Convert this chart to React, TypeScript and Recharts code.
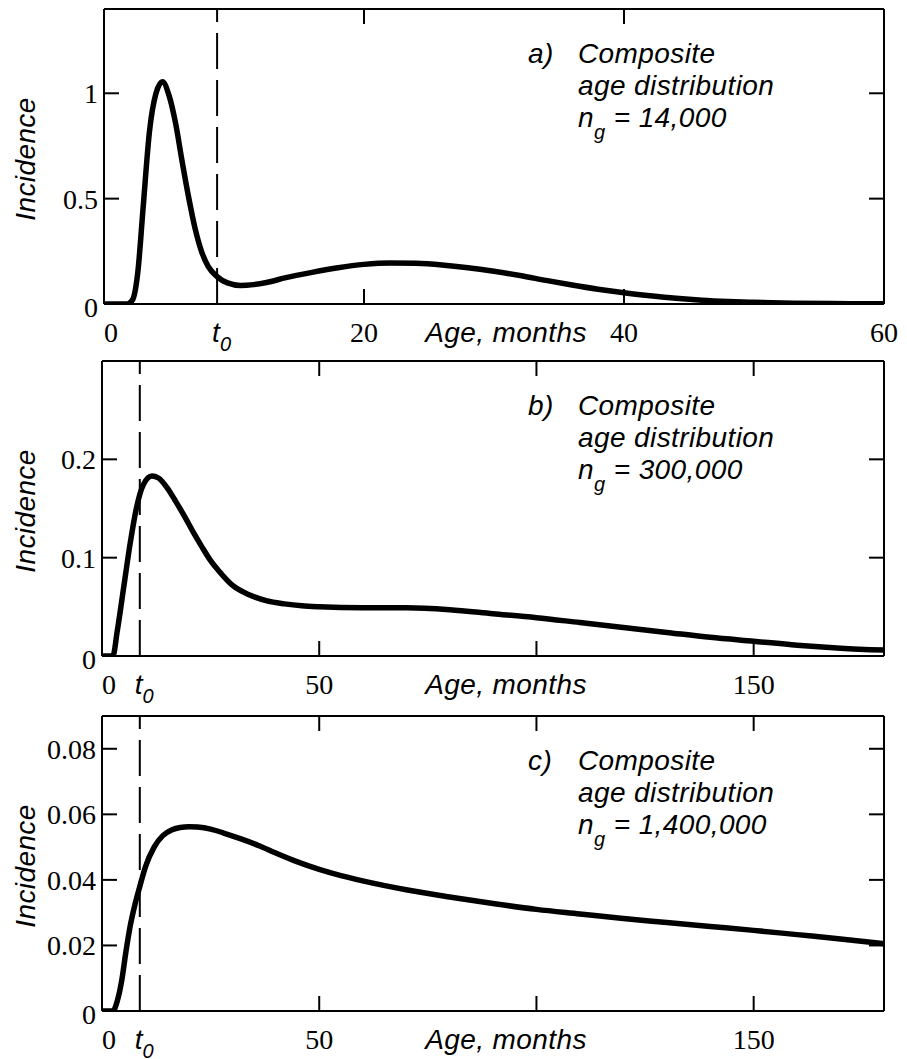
import React from "react";
import { LineChart, Line, XAxis, YAxis, ReferenceLine } from "recharts";

// age at which the dashed t0 marker sits (months)
const T0 = 8.7;

// panel a) n_g = 14,000
const ageA = [0, 1, 1.8, 2.2, 2.6, 3, 3.5, 4, 4.5, 5, 5.5, 6, 6.5, 7, 7.5, 8, 8.7, 9.5, 10.5, 11.5, 12.5, 14, 16, 18, 20, 22, 24, 26, 28, 30, 32, 34, 36, 38, 40, 42, 44, 46, 48, 50, 53, 56, 60];
const incidenceA = [0, 0, 0, 0.02, 0.15, 0.45, 0.82, 1.0, 1.055, 0.99, 0.86, 0.68, 0.51, 0.36, 0.25, 0.18, 0.13, 0.1, 0.088, 0.092, 0.102, 0.125, 0.15, 0.172, 0.188, 0.195, 0.193, 0.185, 0.172, 0.155, 0.135, 0.112, 0.09, 0.07, 0.053, 0.039, 0.027, 0.018, 0.012, 0.008, 0.004, 0.002, 0.001];

// panel b) n_g = 300,000
const ageB = [0, 2.5, 3.5, 5, 6.5, 8, 9.5, 11.5, 13, 15, 17, 19, 21, 23, 25, 27, 30, 34, 38, 42, 46, 50, 60, 70, 80, 90, 100, 110, 120, 130, 140, 150, 160, 170, 180];
const incidenceB = [0, 0, 0.025, 0.07, 0.115, 0.152, 0.174, 0.183, 0.181, 0.171, 0.157, 0.142, 0.126, 0.111, 0.097, 0.086, 0.072, 0.062, 0.056, 0.053, 0.051, 0.05, 0.049, 0.049, 0.047, 0.043, 0.039, 0.034, 0.029, 0.024, 0.019, 0.015, 0.011, 0.008, 0.006];

// panel c) n_g = 1,400,000
const ageC = [0, 2.5, 3.5, 4.5, 5.5, 6.5, 7.5, 8.7, 10, 12, 14, 16, 18, 20, 22, 25, 28, 32, 36, 40, 45, 50, 55, 60, 70, 80, 90, 100, 110, 120, 130, 140, 150, 160, 170, 180];
const incidenceC = [0, 0, 0.003, 0.009, 0.018, 0.026, 0.032, 0.038, 0.044, 0.05, 0.0535, 0.0552, 0.056, 0.0562, 0.0561, 0.0555, 0.0543, 0.0525, 0.0505, 0.0482, 0.0455, 0.0432, 0.0413, 0.0397, 0.037, 0.0348, 0.0328, 0.031, 0.0296, 0.0282, 0.027, 0.0258, 0.0246, 0.0233, 0.022, 0.0205];

// tick marks and labels
const xMarksA = [20, 40];
const xLabelsA = ["0", "20", "40", "60"];
const xMarksBC = [50, 100, 150];
const xLabelsBC = ["0", "50", "150"];
const yTicksA = [0, 0.5, 1];
const yTicksB = [0, 0.1, 0.2];
const yTicksC = [0, 0.02, 0.04, 0.06, 0.08];

const W = 907;
const H = 1059;
const FRAME_H = 295;
const MT = 9;
const MB = 62;
const RIGHT = 884;
const SERIF = '"Liberation Serif", "Times New Roman", serif';
const SANS = '"Liberation Sans", Arial, sans-serif';
const TICK = 15;

function bottomTick(marks: number[], labels: string[]) {
  return (p: any) => {
    const { x, y, payload } = p;
    const v = payload.value;
    const lab = labels.find((l) => Number(l) === v);
    return (
      <g>
        {marks.includes(v) && <line x1={x} y1={y} x2={x} y2={y - TICK} stroke="#000" strokeWidth={2} />}
        {v === T0 ? (
          <text x={x - 5} y={y + 38} fontFamily={SANS} fontStyle="italic" fontSize={28}>
            t<tspan fontSize={20} dy={9}>0</tspan>
          </text>
        ) : lab !== undefined ? (
          <text x={x + (v === 0 ? 7 : 0)} y={y + 38} textAnchor="middle" fontFamily={SERIF} fontSize={28}>
            {lab}
          </text>
        ) : null}
      </g>
    );
  };
}

function topTick(marks: number[]) {
  return (p: any) => {
    const { x, y, payload } = p;
    if (!marks.includes(payload.value)) return <g />;
    return <line x1={x} y1={y} x2={x} y2={y + TICK} stroke="#000" strokeWidth={2} />;
  };
}

function leftTick(p: any) {
  const { x, y, payload } = p;
  const v = payload.value;
  return (
    <g>
      {v > 0 && <line x1={x} y1={y} x2={x + TICK} y2={y} stroke="#000" strokeWidth={2} />}
      <text x={x - 6} y={y + (v === 0 ? 13 : 10)} textAnchor="end" fontFamily={SERIF} fontSize={28}>
        {String(v)}
      </text>
    </g>
  );
}

function rightTick(p: any) {
  const { x, y, payload } = p;
  if (payload.value <= 0) return <g />;
  return <line x1={x - TICK} y1={y} x2={x} y2={y} stroke="#000" strokeWidth={2} />;
}

interface PanelProps {
  top: number;
  left: number;
  ages: number[];
  values: number[];
  xMax: number;
  yMax: number;
  marks: number[];
  labels: string[];
  yTicks: number[];
}

function Panel({ top, left, ages, values, xMax, yMax, marks, labels, yTicks }: PanelProps) {
  const data = ages.map((a, i) => ({ age: a, v: values[i] }));
  const bottomTicks = [0, T0, ...marks, xMax];
  const axis = { stroke: "#000", strokeWidth: 2 };
  // axes are 1px thick bands (a 0 size axis is not drawn), margins take that into account
  return (
    <div style={{ position: "absolute", left: 0, top: top - MT }}>
      <LineChart
        width={W}
        height={MT + FRAME_H + MB}
        data={data}
        margin={{ top: MT - 1, bottom: MB - 1, left: left - 1, right: W - RIGHT - 1 }}
      >
        <XAxis
          dataKey="age"
          type="number"
          domain={[0, xMax]}
          allowDataOverflow
          ticks={bottomTicks}
          interval={0}
          height={1}
          tickSize={0}
          tickMargin={0}
          tickLine={false}
          axisLine={axis}
          tick={bottomTick(marks, labels)}
        />
        <XAxis
          xAxisId="top"
          orientation="top"
          dataKey="age"
          type="number"
          domain={[0, xMax]}
          allowDataOverflow
          ticks={marks}
          interval={0}
          height={1}
          tickSize={0}
          tickMargin={0}
          tickLine={false}
          axisLine={axis}
          tick={topTick(marks)}
        />
        <YAxis
          type="number"
          domain={[0, yMax]}
          allowDataOverflow
          ticks={yTicks}
          interval={0}
          width={1}
          tickSize={0}
          tickMargin={0}
          tickLine={false}
          axisLine={axis}
          tick={leftTick}
        />
        <YAxis
          yAxisId="r"
          orientation="right"
          type="number"
          domain={[0, yMax]}
          allowDataOverflow
          ticks={yTicks}
          interval={0}
          width={1}
          tickSize={0}
          tickMargin={0}
          tickLine={false}
          axisLine={axis}
          tick={rightTick}
        />
        <ReferenceLine x={T0} stroke="#000" strokeWidth={2} strokeDasharray="36 11" />
        <Line
          dataKey="v"
          type="monotone"
          stroke="#000"
          strokeWidth={5.5}
          dot={false}
          activeDot={false}
          isAnimationActive={false}
        />
      </LineChart>
    </div>
  );
}

const PANELS = [
  { top: 9, tag: "a)", n: "14,000" },
  { top: 361, tag: "b)", n: "300,000" },
  { top: 716, tag: "c)", n: "1,400,000" },
];

function Overlay() {
  const sans = { fontFamily: SANS, fontStyle: "italic" as const, fontSize: 28, letterSpacing: 0.4 };
  return (
    <svg width={W} height={H} style={{ position: "absolute", left: 0, top: 0, pointerEvents: "none" }}>
      {PANELS.map((p) => (
        <g key={p.tag}>
          <text
            x={35}
            y={p.top + 150}
            transform={`rotate(-90, 35, ${p.top + 150})`}
            textAnchor="middle"
            {...sans}
          >
            Incidence
          </text>
          <text x={506} y={p.top + FRAME_H + 38} textAnchor="middle" {...sans}>
            Age, months
          </text>
          <text x={528} y={p.top + 54} {...sans}>{p.tag}</text>
          <text x={578} y={p.top + 54} {...sans}>Composite</text>
          <text x={578} y={p.top + 86} {...sans}>age distribution</text>
          <text x={578} y={p.top + 118} {...sans}>
            n<tspan fontSize={20} dy={12}>g</tspan>
            <tspan dy={-12}> = {p.n}</tspan>
          </text>
        </g>
      ))}
    </svg>
  );
}

export default function App() {
  return (
    <div
      style={{
        position: "absolute",
        left: 0,
        top: 0,
        width: W,
        height: H,
        overflow: "hidden",
        background: "#fff",
      }}
    >
      <Panel top={9} left={104} ages={ageA} values={incidenceA} xMax={60} yMax={1.4} marks={xMarksA} labels={xLabelsA} yTicks={yTicksA} />
      <Panel top={361} left={102} ages={ageB} values={incidenceB} xMax={180} yMax={0.3} marks={xMarksBC} labels={xLabelsBC} yTicks={yTicksB} />
      <Panel top={716} left={102} ages={ageC} values={incidenceC} xMax={180} yMax={0.09} marks={xMarksBC} labels={xLabelsBC} yTicks={yTicksC} />
      <Overlay />
    </div>
  );
}
